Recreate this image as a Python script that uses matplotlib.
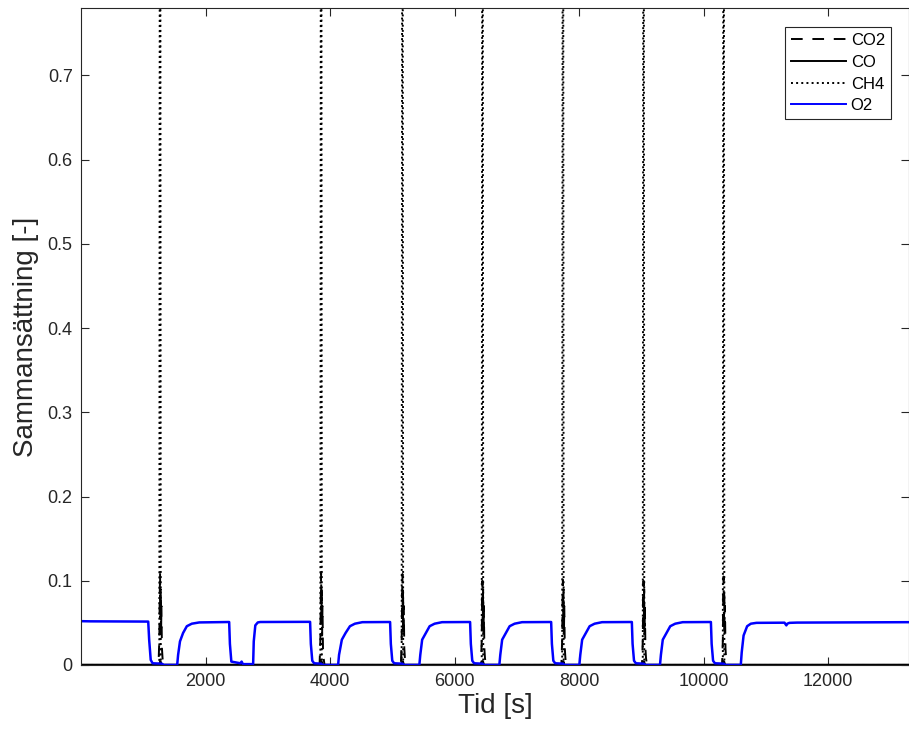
import numpy as np
import matplotlib
matplotlib.use("Agg")
import matplotlib.pyplot as plt

# O2-kurvan (tid [s], halt [-])
o2_t = [0, 150, 1080, 1095, 1120, 1150, 1300, 1330, 1545, 1560, 1590, 1640, 1700, 1780, 1900,
        2380, 2392, 2415, 2560, 2580, 2600, 2765, 2775, 2800, 2840, 2880,
        3680, 3692, 3715, 3745, 3860, 3880, 4130, 4145, 4190, 4250, 4320, 4400, 4520,
        4965, 4977, 5000, 5030, 5165, 5185, 5435, 5450, 5480, 5540, 5600, 5680, 5800,
        6250, 6262, 6285, 6315, 6450, 6470, 6720, 6735, 6765, 6825, 6885, 6965, 7085,
        7552, 7564, 7587, 7617, 7745, 7765, 8005, 8020, 8050, 8110, 8170, 8250, 8370,
        8848, 8860, 8883, 8913, 9040, 9060, 9300, 9315, 9345, 9405, 9465, 9545, 9665,
        10118, 10130, 10153, 10183, 10325, 10345, 10598, 10613, 10643, 10700, 10760, 10850,
        11300, 11330, 11345, 11380, 11500, 13300]
o2_v = [0.0520, 0.0518, 0.0515, 0.030, 0.006, 0.002, 0.0015, 0.0, 0.0, 0.012, 0.028, 0.038, 0.046, 0.049, 0.0505,
        0.0510, 0.025, 0.004, 0.002, 0.004, 0.001, 0.001, 0.028, 0.047, 0.0505, 0.0510,
        0.0512, 0.025, 0.005, 0.002, 0.0015, 0.0, 0.0, 0.012, 0.030, 0.038, 0.046, 0.049, 0.0508,
        0.0510, 0.025, 0.005, 0.002, 0.0015, 0.0, 0.0, 0.012, 0.030, 0.038, 0.046, 0.049, 0.0508,
        0.0510, 0.025, 0.005, 0.002, 0.0015, 0.0, 0.0, 0.012, 0.030, 0.038, 0.046, 0.049, 0.0508,
        0.0510, 0.025, 0.005, 0.002, 0.0015, 0.0, 0.0, 0.012, 0.030, 0.038, 0.046, 0.049, 0.0508,
        0.0510, 0.025, 0.005, 0.002, 0.0015, 0.0, 0.0, 0.012, 0.030, 0.038, 0.046, 0.049, 0.0508,
        0.0510, 0.025, 0.005, 0.002, 0.0015, 0.0, 0.0, 0.015, 0.035, 0.046, 0.049, 0.0500,
        0.0502, 0.0470, 0.0490, 0.0500, 0.0503, 0.0508]

# Pulstider med CH4-spikar och CO2-toppar
spike_t = [1270, 3857, 5163, 6449, 7741, 9036, 10322]
co2_peak = [0.110, 0.110, 0.108, 0.100, 0.101, 0.100, 0.105]
ch4_peak = [1.0, 1.0, 1.0, 1.0, 1.0, 1.0, 1.0]

# Form på en CO2-topp (tid relativt pulsen, halt)
co2_dt = [-25, -12, -6, 0, 5, 10, 16, 22, 30, 40, 55]
co2_shape = [0.0, 0.030, 0.075, None, 0.055, 0.090, 0.035, 0.070, 0.020, 0.008, 0.0]

t_end = 13300

co2_t, co2_v = [0], [0.0]
ch4_t, ch4_v = [0], [0.0]
co_t, co_v = [0], [0.0]
for s, pk, ch in zip(spike_t, co2_peak, ch4_peak):
    for dt, v in zip(co2_dt, co2_shape):
        co2_t.append(s + dt)
        co2_v.append(pk if v is None else v)
    ch4_t += [s - 12, s - 4, s + 4, s + 12]
    ch4_v += [0.0, ch, ch, 0.0]
    co_t += [s - 10, s + 5, s + 20]
    co_v += [0.0, 0.004, 0.0]
co2_t.append(t_end); co2_v.append(0.0)
ch4_t.append(t_end); ch4_v.append(0.0)
co_t.append(t_end); co_v.append(0.0)

plt.rcParams['font.family'] = ['Liberation Sans', 'DejaVu Sans']

fig = plt.figure(figsize=(9.09, 7.40), dpi=100)
ax = fig.add_axes([0.0891, 0.1014, 0.9109, 0.8878])

ax.plot(co2_t, co2_v, color='k', ls='--', dashes=(6, 5), lw=1.4, label='CO2')
ax.plot(co_t, co_v, color='k', ls='-', lw=1.8, label='CO')
ax.plot(ch4_t, ch4_v, color='k', ls=':', lw=1.4, label='CH4')
ax.plot(o2_t, o2_v, color=(0, 0, 1), ls='-', lw=1.8, label='O2')

ax.set_xlim(0, t_end)
ax.set_ylim(0, 0.78)
ax.set_xticks([2000, 4000, 6000, 8000, 10000, 12000])
ax.set_yticks([0, 0.1, 0.2, 0.3, 0.4, 0.5, 0.6, 0.7])
ax.set_yticklabels(['0', '0.1', '0.2', '0.3', '0.4', '0.5', '0.6', '0.7'])

ax.tick_params(direction='in', length=6, width=0.8, colors='0.15', labelsize=13,
               top=True, right=True, pad=6)
for sp in ax.spines.values():
    sp.set_color('0.15')
    sp.set_linewidth(0.8)

ax.set_xlabel('Tid [s]', fontsize=20, color='0.15', labelpad=2)
ax.set_ylabel('Sammansättning [-]', fontsize=20, color='0.15', labelpad=6)

leg = ax.legend(loc='upper right', bbox_to_anchor=(0.988, 0.983), fontsize=12,
                fancybox=False, framealpha=1, edgecolor='0.15', handlelength=3.3,
                handletextpad=0.3, borderpad=0.35, labelspacing=0.4)
leg.get_frame().set_linewidth(0.8)
for h in leg.get_lines():
    h.set_linewidth(1.4)

fig.savefig('out.png', dpi=100)
